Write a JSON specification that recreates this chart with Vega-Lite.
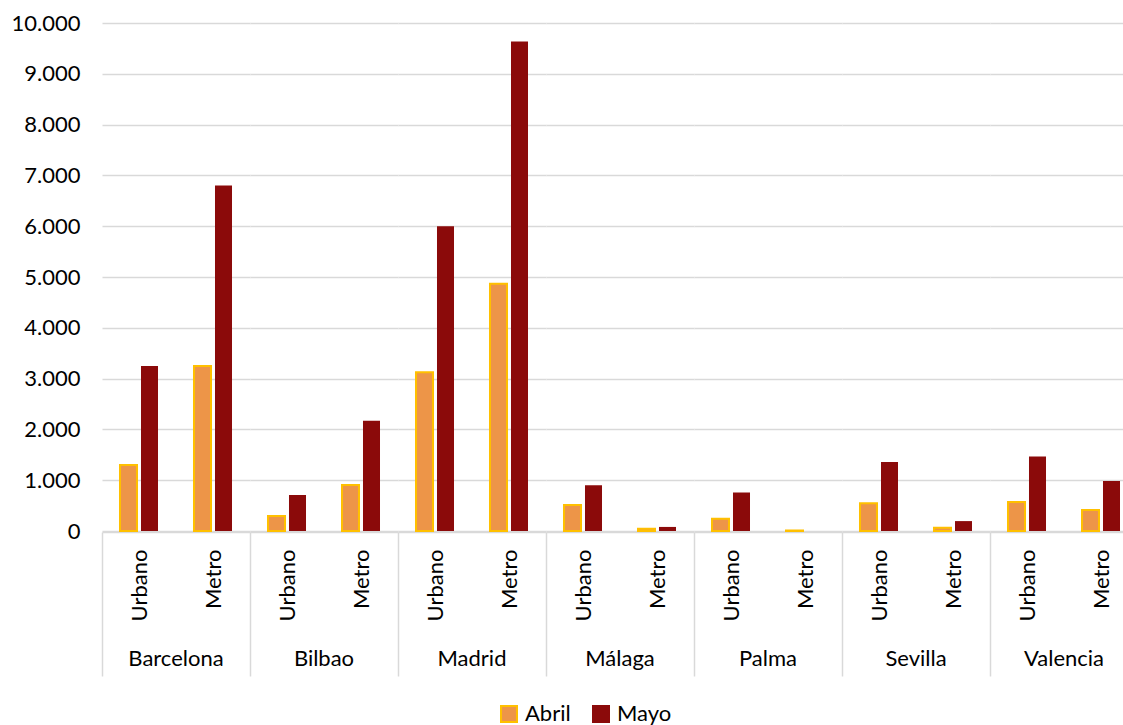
{
  "$schema": "https://vega.github.io/schema/vega-lite/v6.json",
  "padding": {"left": 11, "top": 12, "right": 0, "bottom": 0},
  "config": {
    "locale": {"number": {"decimal": ",", "thousands": ".", "grouping": [3], "currency": ["", " €"]}},
    "font": "Lato",
    "view": {"stroke": null},
    "facet": {"spacing": 0}
  },
  "data": {
    "values": [
      {"city": "Barcelona", "type": "Urbano", "month": "Abril", "value": 1300},
      {"city": "Barcelona", "type": "Urbano", "month": "Mayo", "value": 3250},
      {"city": "Barcelona", "type": "Metro", "month": "Abril", "value": 3250},
      {"city": "Barcelona", "type": "Metro", "month": "Mayo", "value": 6800},
      {"city": "Bilbao", "type": "Urbano", "month": "Abril", "value": 295},
      {"city": "Bilbao", "type": "Urbano", "month": "Mayo", "value": 710},
      {"city": "Bilbao", "type": "Metro", "month": "Abril", "value": 905},
      {"city": "Bilbao", "type": "Metro", "month": "Mayo", "value": 2170},
      {"city": "Madrid", "type": "Urbano", "month": "Abril", "value": 3125},
      {"city": "Madrid", "type": "Urbano", "month": "Mayo", "value": 6000},
      {"city": "Madrid", "type": "Metro", "month": "Abril", "value": 4865},
      {"city": "Madrid", "type": "Metro", "month": "Mayo", "value": 9635},
      {"city": "Málaga", "type": "Urbano", "month": "Abril", "value": 510},
      {"city": "Málaga", "type": "Urbano", "month": "Mayo", "value": 900},
      {"city": "Málaga", "type": "Metro", "month": "Abril", "value": 45},
      {"city": "Málaga", "type": "Metro", "month": "Mayo", "value": 80},
      {"city": "Palma", "type": "Urbano", "month": "Abril", "value": 240},
      {"city": "Palma", "type": "Urbano", "month": "Mayo", "value": 760},
      {"city": "Palma", "type": "Metro", "month": "Abril", "value": 10},
      {"city": "Palma", "type": "Metro", "month": "Mayo", "value": 0},
      {"city": "Sevilla", "type": "Urbano", "month": "Abril", "value": 545},
      {"city": "Sevilla", "type": "Urbano", "month": "Mayo", "value": 1360},
      {"city": "Sevilla", "type": "Metro", "month": "Abril", "value": 65},
      {"city": "Sevilla", "type": "Metro", "month": "Mayo", "value": 195},
      {"city": "Valencia", "type": "Urbano", "month": "Abril", "value": 570},
      {"city": "Valencia", "type": "Urbano", "month": "Mayo", "value": 1465},
      {"city": "Valencia", "type": "Metro", "month": "Abril", "value": 415},
      {"city": "Valencia", "type": "Metro", "month": "Mayo", "value": 985}
    ]
  },
  "facet": {
    "column": {
      "field": "city",
      "type": "nominal",
      "sort": ["Barcelona", "Bilbao", "Madrid", "Málaga", "Palma", "Sevilla", "Valencia"],
      "header": {"labelOrient": "bottom", "title": null, "labelFontSize": 22, "labelColor": "black", "labelPadding": -28, "labelFont": "Lato"}
    }
  },
  "spacing": 0,
  "spec": {
    "width": 148,
    "height": 508,
    "mark": {"type": "bar"},
    "encoding": {
      "x": {
        "field": "type",
        "type": "nominal",
        "sort": ["Urbano", "Metro"],
        "scale": {"paddingInner": 0, "paddingOuter": 0},
        "axis": {
          "title": null,
          "labelAngle": -90,
          "labelFontSize": 22,
          "labelColor": "black",
          "labelPadding": -127,
          "labelOffset": 37,
          "domainColor": "#d9d9d9",
          "domainWidth": 1.5,
          "tickColor": "#d9d9d9",
          "tickWidth": 1.5,
          "tickSize": 144,
          "tickOffset": -37,
          "tickOpacity": {"condition": {"test": "datum.value === 'Urbano'", "value": 1}, "value": 0}
        }
      },
      "xOffset": {"field": "month", "type": "nominal", "sort": ["Abril", "Mayo"], "scale": {"paddingInner": 0.19, "paddingOuter": 0.857}},
      "y": {
        "field": "value",
        "type": "quantitative",
        "scale": {"domain": [0, 10000]},
        "axis": {
          "title": null,
          "values": [0, 1000, 2000, 3000, 4000, 5000, 6000, 7000, 8000, 9000, 10000],
          "format": ",d",
          "domain": false,
          "ticks": false,
          "labelFontSize": 22,
          "labelColor": "black",
          "labelPadding": 22,
          "gridColor": "#d9d9d9",
          "gridWidth": 1.5
        }
      },
      "color": {
        "field": "month",
        "type": "nominal",
        "scale": {"domain": ["Abril", "Mayo"], "range": ["#ED9548", "#8B0A0A"]},
        "legend": {"title": null, "orient": "none", "legendX": 396, "legendY": 680, "direction": "horizontal", "symbolType": "square", "symbolSize": 256, "labelFontSize": 22, "labelColor": "black", "symbolOpacity": 1, "symbolStrokeWidth": 2, "columnPadding": 18, "labelOffset": 5}
      },
      "stroke": {
        "field": "month",
        "type": "nominal",
        "scale": {"domain": ["Abril", "Mayo"], "range": ["#FFC000", "#8B0A0A"]},
        "legend": {"title": null, "orient": "none", "legendX": 396, "legendY": 680, "direction": "horizontal", "symbolType": "square", "symbolSize": 256, "labelFontSize": 22, "labelColor": "black", "symbolOpacity": 1, "symbolStrokeWidth": 2, "columnPadding": 18, "labelOffset": 5}
      },
      "strokeWidth": {"condition": {"test": "datum.month === 'Abril'", "value": 2}, "value": 0}
    }
  }
}
